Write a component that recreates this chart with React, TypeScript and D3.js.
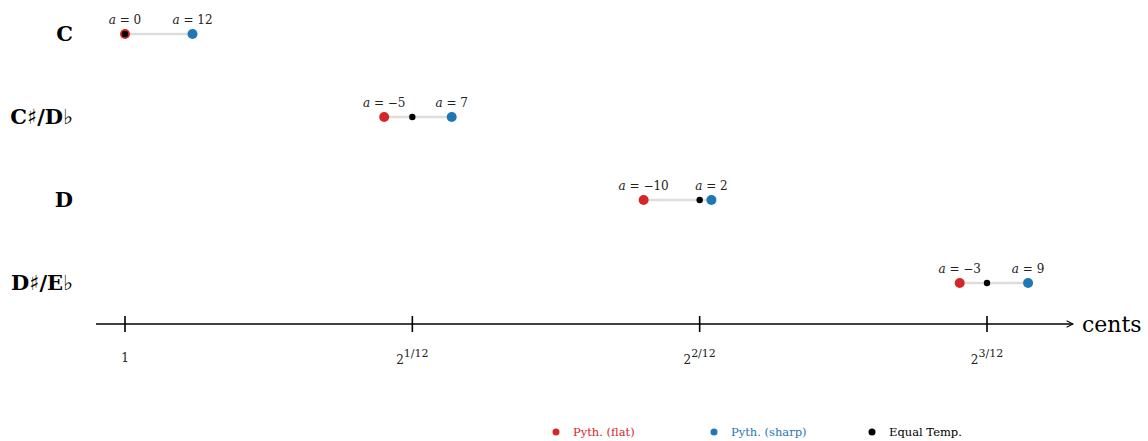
import React, { useEffect, useRef } from "react";
import * as d3 from "d3";

// notes, top to bottom
const notes = ["C", "C♯/D♭", "D", "D♯/E♭"];
// cents
const flatCents = [0, 90.2, 180.5, 290.5];
const sharpCents = [23.5, 113.7, 204.1, 314.3];
const equalCents = [0, 100, 200, 300];
const flatA = ["0", "−5", "−10", "−3"];
const sharpA = ["12", "7", "2", "9"];
const tickCents = [0, 100, 200, 300];
const tickExp = ["", "1/12", "2/12", "3/12"];
const legendItems = ["Pyth. (flat)", "Pyth. (sharp)", "Equal Temp."];

const RED = "#d62728";
const BLUE = "#1f77b4";
const FONT = "'DejaVu Serif', 'Liberation Serif', serif";

const App = () => {
    const svgRef = useRef(null);

    useEffect(() => {
        const width = 1148;
        const height = 441;
        const svg = d3.select(svgRef.current);
        svg.selectAll("*").remove();
        svg.attr("width", width).attr("height", height);

        const x = d3.scaleLinear().domain([0, 300]).range([125, 987]);
        const y = d3.scalePoint().domain(notes).range([34, 283]);
        const axisY = 324;

        // axis line with arrow
        svg.append("defs").append("marker")
            .attr("id", "arrow")
            .attr("viewBox", "0 0 10 10")
            .attr("refX", 9).attr("refY", 5)
            .attr("markerWidth", 8).attr("markerHeight", 8)
            .attr("markerUnits", "userSpaceOnUse")
            .attr("orient", "auto")
            .append("path")
            .attr("d", "M1,1 L9,5 L1,9")
            .attr("fill", "none")
            .attr("stroke", "black")
            .attr("stroke-width", 1.3);

        svg.append("line")
            .attr("x1", 96).attr("x2", 1073)
            .attr("y1", axisY).attr("y2", axisY)
            .attr("stroke", "black")
            .attr("stroke-width", 1.6)
            .attr("marker-end", "url(#arrow)");

        svg.append("text")
            .attr("x", 1082).attr("y", axisY + 8)
            .attr("font-family", FONT)
            .attr("font-size", 22)
            .text("cents");

        // ticks
        tickCents.forEach((c, i) => {
            svg.append("line")
                .attr("x1", x(c)).attr("x2", x(c))
                .attr("y1", axisY - 8).attr("y2", axisY + 8)
                .attr("stroke", "black")
                .attr("stroke-width", 1.6);
            const t = svg.append("text")
                .attr("x", x(c)).attr("y", 364)
                .attr("text-anchor", "middle")
                .attr("font-family", FONT)
                .attr("font-size", 12)
                .attr("fill", "#222");
            if (tickExp[i] === "") {
                t.attr("y", 362).text("1");
            } else {
                t.append("tspan").text("2");
                t.append("tspan").attr("dy", -7).attr("font-size", 11).text(tickExp[i]);
            }
        });

        // row labels
        notes.forEach(n => {
            svg.append("text")
                .attr("x", 73).attr("y", y(n) + 7)
                .attr("text-anchor", "end")
                .attr("font-family", FONT)
                .attr("font-weight", "bold")
                .attr("font-size", 21)
                .text(n);
        });

        const annotate = (cx, cy, val) => {
            const t = svg.append("text")
                .attr("x", cx).attr("y", cy - 10)
                .attr("text-anchor", "middle")
                .attr("font-family", FONT)
                .attr("font-size", 12)
                .attr("fill", "#222");
            t.append("tspan").attr("font-style", "italic").text("a");
            t.append("tspan").text(" = " + val);
        };

        notes.forEach((n, i) => {
            const cy = y(n);
            svg.append("line")
                .attr("x1", x(flatCents[i])).attr("x2", x(sharpCents[i]))
                .attr("y1", cy).attr("y2", cy)
                .attr("stroke", "#dddddd")
                .attr("stroke-width", 2.5);
            svg.append("circle").attr("cx", x(flatCents[i])).attr("cy", cy).attr("r", 5).attr("fill", RED);
            svg.append("circle").attr("cx", x(sharpCents[i])).attr("cy", cy).attr("r", 5).attr("fill", BLUE);
            svg.append("circle").attr("cx", x(equalCents[i])).attr("cy", cy).attr("r", 3.2).attr("fill", "black");
            annotate(x(flatCents[i]), cy, flatA[i]);
            annotate(x(sharpCents[i]), cy, sharpA[i]);
        });

        // legend
        const legendX = d3.scalePoint().domain(legendItems).range([556, 872]);
        const legendColors = [RED, BLUE, "black"];
        legendItems.forEach((item, i) => {
            svg.append("circle")
                .attr("cx", legendX(item)).attr("cy", 432)
                .attr("r", 3.5)
                .attr("fill", legendColors[i]);
            svg.append("text")
                .attr("x", legendX(item) + 17).attr("y", 436)
                .attr("font-family", FONT)
                .attr("font-size", 11.5)
                .attr("fill", legendColors[i])
                .text(item);
        });
    }, []);

    return (
        <svg
            ref={svgRef}
            style={{ position: "absolute", top: 0, left: 0, display: "block", background: "white" }}
        />
    );
};

export default App;
